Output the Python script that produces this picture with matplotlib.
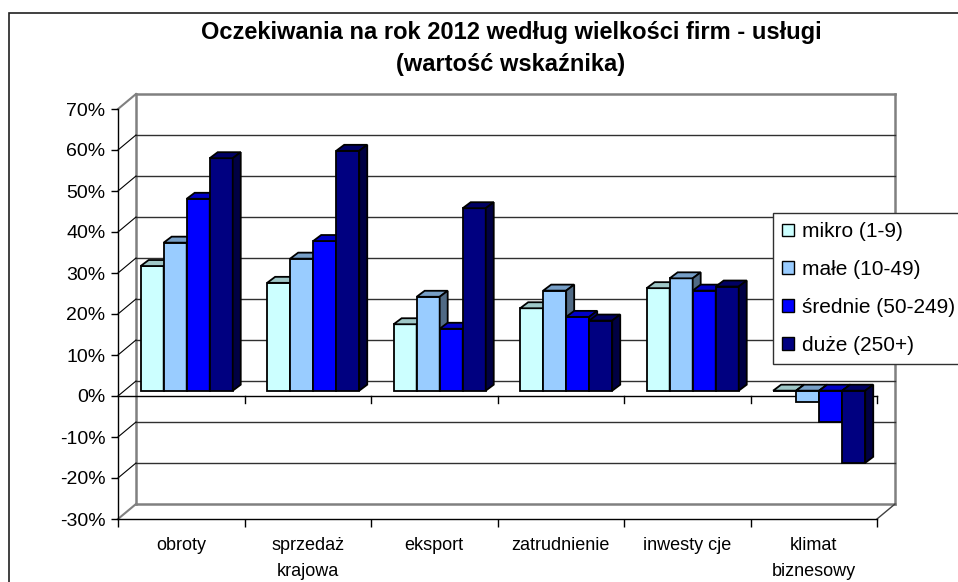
import numpy as np
import matplotlib.pyplot as plt
from matplotlib.patches import Polygon, Patch, Rectangle
from matplotlib.colors import to_rgb

plt.rcParams['font.family'] = ['Liberation Sans', 'DejaVu Sans']

# data (percent)
categories = ["obroty", "sprzedaż\nkrajowa", "eksport", "zatrudnienie", "inwesty cje", "klimat\nbiznesowy"]
series_names = ["mikro (1-9)", "małe (10-49)", "średnie (50-249)", "duże (250+)"]
mikro = [30.4, 26.3, 16.2, 20.1, 25.0, 0.0]
male = [36.1, 32.2, 22.9, 24.4, 27.4, -2.8]
srednie = [46.8, 36.5, 15.1, 18.0, 24.4, -7.7]
duze = [56.7, 58.5, 44.5, 17.1, 25.4, -17.6]
series_colors = ["#CCFFFF", "#99CCFF", "#0000FF", "#000080"]
y_ticks = list(range(-30, 71, 10))

W, H = 958, 582
fig = plt.figure(figsize=(W / 100, H / 100), dpi=100)
fig.patch.set_facecolor("white")

# outer chart border
fig.patches.append(Rectangle((9 / W, -0.1), 1.5, (1 - 13 / H) + 0.1, transform=fig.transFigure,
                             fill=False, edgecolor="#202020", linewidth=1.2))

ax = fig.add_axes([118 / W, 63 / H, 759 / W, 410 / H])
ax.set_xlim(0, len(categories))
ax.set_ylim(-30, 70)
ax.set_facecolor("none")

# pseudo 3d depth offsets in data units
DX_WALL, DY_WALL = 18 / 126.5, 15 / 4.1
DX_FRONT, DY_FRONT = 0.045, 1.3
DX_BAR, DY_BAR = 8 / 126.5, 6 / 4.1
BAR_W = 0.182
n_cat = len(categories)
wall_col = "#808080"

# back wall, side wall and floor
ax.plot([DX_WALL, DX_WALL], [-30 + DY_WALL, 70 + DY_WALL], color=wall_col, lw=1.8, clip_on=False, zorder=1)
ax.plot([n_cat + DX_WALL, n_cat + DX_WALL], [-30 + DY_WALL, 70 + DY_WALL], color=wall_col, lw=1.8, clip_on=False, zorder=1)
for v in y_ticks:
    edge = v in (y_ticks[0], y_ticks[-1])
    ax.plot([DX_WALL, n_cat + DX_WALL], [v + DY_WALL, v + DY_WALL],
            color=wall_col if edge else "#303030", lw=1.8 if edge else 1.0, clip_on=False, zorder=1)
    ax.plot([0, DX_WALL], [v, v + DY_WALL],
            color=wall_col if edge else "black", lw=1.5 if edge else 0.8, clip_on=False, zorder=1)
ax.plot([n_cat, n_cat + DX_WALL], [-30, -30 + DY_WALL], color="#404040", lw=1.0, clip_on=False, zorder=1)

# front zero line with category ticks
ax.plot([0, n_cat], [0, 0], color="black", lw=1.0, zorder=2, clip_on=False)
for k in range(1, n_cat + 1):
    ax.plot([k, k], [0, -1.7], color="black", lw=1.0, zorder=2, clip_on=False)

# bars: front face, top face, side face
all_series = [mikro, male, srednie, duze]
for j, (vals, col) in enumerate(zip(all_series, series_colors)):
    rgb = np.array(to_rgb(col))
    top_col = rgb * 0.78
    side_col = rgb * 0.52
    z = 3 + j
    x_left = np.arange(n_cat) + 0.179 + j * BAR_W
    ax.bar(x_left, vals, width=BAR_W, bottom=DY_FRONT, align="edge", color=col,
           edgecolor="black", linewidth=1.3, zorder=z)
    for xl, v in zip(x_left, vals):
        lo = min(v, 0) + DY_FRONT
        hi = max(v, 0) + DY_FRONT
        xr = xl + BAR_W
        top = [(xl, hi), (xr, hi), (xr + DX_BAR, hi + DY_BAR), (xl + DX_BAR, hi + DY_BAR)]
        side = [(xr, lo), (xr + DX_BAR, lo + DY_BAR), (xr + DX_BAR, hi + DY_BAR), (xr, hi)]
        ax.add_patch(Polygon(top, closed=True, facecolor=top_col, edgecolor="black", lw=1.3, zorder=z))
        ax.add_patch(Polygon(side, closed=True, facecolor=side_col, edgecolor="black", lw=1.3, zorder=z))

# axes styling
for s in ("top", "right"):
    ax.spines[s].set_visible(False)
ax.spines["left"].set_linewidth(1.0)
ax.spines["bottom"].set_linewidth(1.0)
ax.set_yticks(y_ticks)
ax.set_yticklabels([f"{v}%" for v in y_ticks])
ax.tick_params(axis="y", direction="out", length=5, width=1, pad=4, labelsize=14)
ax.set_xticks(range(n_cat + 1))
ax.set_xticklabels([])
ax.tick_params(axis="x", which="major", direction="out", length=6, width=1)
ax.set_xticks(np.arange(n_cat) + 0.5, minor=True)
ax.set_xticklabels(categories, minor=True, linespacing=1.65)
ax.tick_params(axis="x", which="minor", length=0, pad=13, labelsize=13)

# title
fig.text(511 / W, 1 - 33 / H, "Oczekiwania na rok 2012 według wielkości firm - usługi",
         ha="center", va="center", fontsize=17, fontweight="bold")
fig.text(511 / W, 1 - 65 / H, "(wartość wskaźnika)",
         ha="center", va="center", fontsize=17, fontweight="bold")

# legend
handles = [Patch(facecolor=c, edgecolor="black", linewidth=1.0) for c in series_colors]
leg = fig.legend(handles, series_names, loc="upper left", bbox_to_anchor=(773 / W, 1 - 213 / H),
                 frameon=True, fancybox=False, framealpha=1, edgecolor="#303030",
                 borderaxespad=0, borderpad=0.45, labelspacing=0.9, handlelength=0.56,
                 handleheight=0.56, handletextpad=0.4, fontsize=15)
leg.get_frame().set_linewidth(1.0)

fig.savefig("out.png", dpi=100)
